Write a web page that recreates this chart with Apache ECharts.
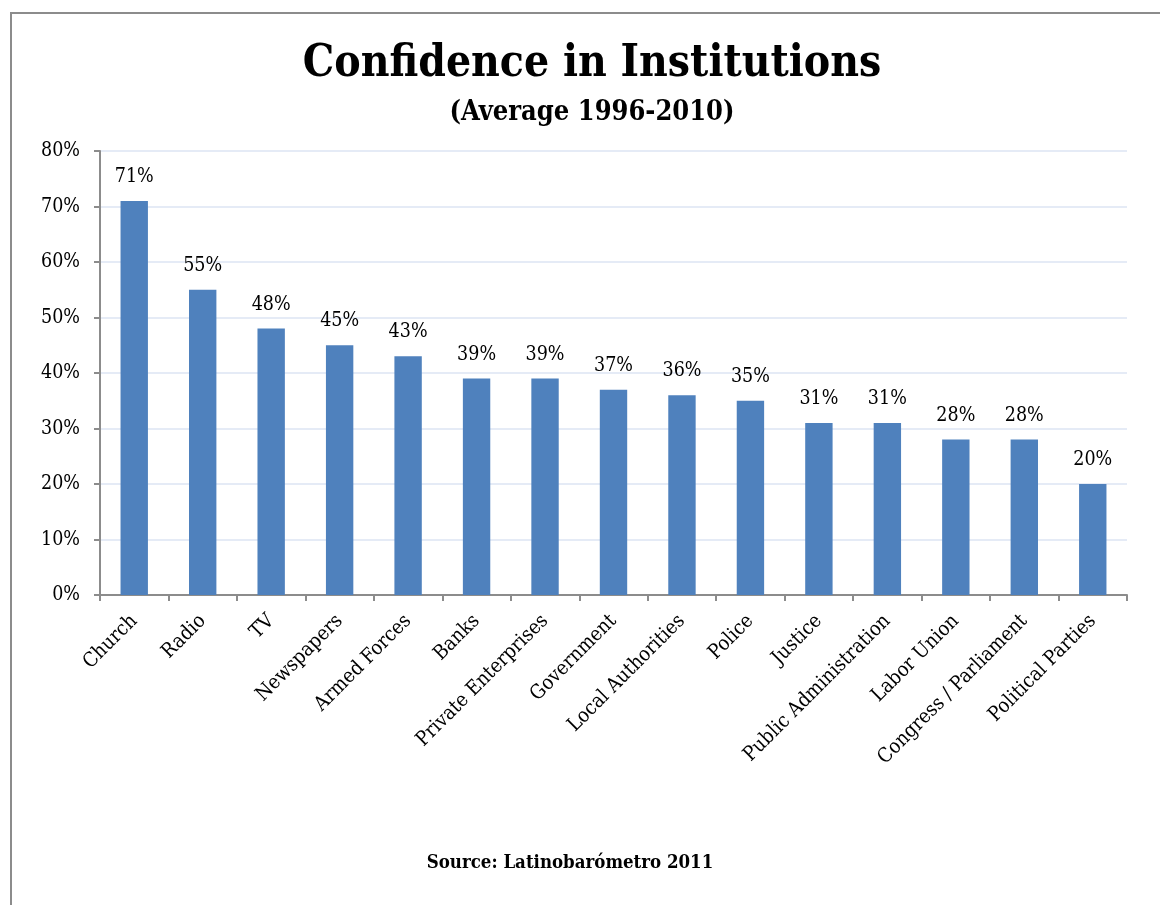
<!DOCTYPE html>
<html>
<head>
<meta charset="utf-8">
<script src="https://cdn.jsdelivr.net/npm/echarts@6/dist/echarts.min.js"></script>
<style>html,body{margin:0;padding:0;background:#fff}#c{width:1160px;height:905px}</style>
</head>
<body>
<div id="c"></div>
<script>
const categories = ["Church","Radio","TV","Newspapers","Armed Forces","Banks","Private Enterprises","Government","Local Authorities","Police","Justice","Public Administration","Labor Union","Congress / Parliament","Political Parties"];
const values = [71,55,48,45,43,39,39,37,36,35,31,31,28,28,20];
const yTicks = [0,10,20,30,40,50,60,70,80];
const titleText = "Confidence in Institutions";
const subtitleText = "(Average 1996-2010)";
const sourceText = "Source: Latinobarómetro 2011";

const FONT = "'DejaVu Serif Condensed', 'Liberation Serif', serif";
const chart = echarts.init(document.getElementById('c'));
chart.setOption({
  animation: false,
  backgroundColor: '#fff',
  graphic: [
    {type:'rect', shape:{x:11,y:13,width:1200,height:1000}, style:{fill:'none', stroke:'#8c8c8c', lineWidth:2}},
    {type:'text', x:592, y:65, style:{text:titleText, font:"bold 44px "+FONT, fill:'#000', align:'center', verticalAlign:'middle'}},
    {type:'text', x:592, y:113, style:{text:subtitleText, font:"bold 27px "+FONT, fill:'#000', align:'center', verticalAlign:'middle'}},
    {type:'text', x:570, y:863, style:{text:sourceText, font:"bold 18.5px "+FONT, fill:'#000', align:'center', verticalAlign:'middle'}}
  ],
  grid: {left:100, right:33, top:151, bottom:310, containLabel:false},
  xAxis: {
    type:'category', data:categories,
    axisLine:{lineStyle:{color:'#8c8c8c', width:2}},
    axisTick:{show:true, alignWithLabel:false, length:6, lineStyle:{color:'#8c8c8c', width:2}},
    axisLabel:{rotate:45, interval:0, color:'#000', fontFamily:FONT, fontSize:20, margin:23}
  },
  yAxis: {
    type:'value', min:0, max:80, interval:10,
    axisLine:{show:true, lineStyle:{color:'#8c8c8c', width:2}},
    axisTick:{show:true, length:6, lineStyle:{color:'#8c8c8c', width:2}},
    axisLabel:{color:'#000', fontFamily:FONT, fontSize:19.5, margin:20, formatter: v => v + '%'},
    splitLine:{lineStyle:{color:'#dde4f3', width:1.5}}
  },
  series: [{
    type:'bar', data:values, barCategoryGap:'60%',
    itemStyle:{color:'#4f81bd'},
    label:{show:true, position:'top', distance:14, color:'#000', fontFamily:FONT, fontSize:19.5, formatter: p => p.value + '%'}
  }]
});
</script>
</body>
</html>
